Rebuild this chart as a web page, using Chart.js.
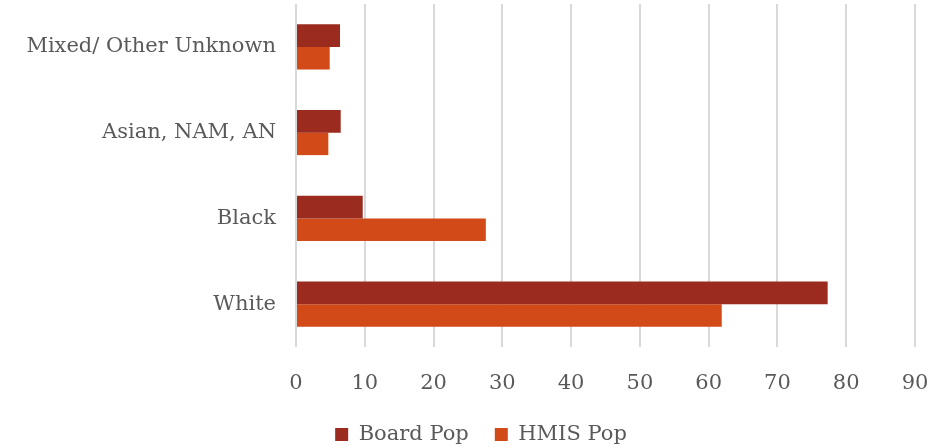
<!DOCTYPE html>
<html>
<head>
<meta charset="utf-8">
<script src="https://cdn.jsdelivr.net/npm/chart.js@4/dist/chart.umd.min.js"></script>
<style>
html,body{margin:0;padding:0;background:#fff;}
#wrap{width:930px;height:448px;position:relative;}
</style>
</head>
<body>
<div id="wrap"><canvas id="c" width="930" height="448"></canvas></div>
<script>
const groups=['Mixed/ Other Unknown','Asian, NAM, AN','Black','White'];
const boardPop=[6.4,6.5,9.7,77.3];
const hmisPop=[4.9,4.7,27.6,61.9];
const xTicks=[0,10,20,30,40,50,60,70,80,90];

const txt='#595959',grid='#d9d9d9';
const font={family:'"DejaVu Serif", serif',size:21};

// centre the legend under the plot rather than under the whole canvas
const legendShift={id:'legendShift',afterLayout(c){c.legend.left+=47;}};

new Chart(document.getElementById('c'),{
  type:'bar',
  data:{labels:groups,datasets:[
    {label:'Board Pop',data:boardPop,backgroundColor:'#9b2b1f',borderWidth:0},
    {label:'HMIS Pop',data:hmisPop,backgroundColor:'#d24a18',borderWidth:0}
  ]},
  options:{
    indexAxis:'y',responsive:false,animation:false,
    // legend spacing is wide, so let its box hang below the canvas edge
    layout:{padding:{left:0,right:15,top:4,bottom:-7}},
    datasets:{bar:{barPercentage:1,categoryPercentage:0.525}},
    plugins:{
      legend:{position:'bottom',labels:{color:txt,font:font,boxWidth:13,boxHeight:13,padding:26}},
      tooltip:{enabled:false}
    },
    scales:{
      x:{min:0,max:90,
        afterBuildTicks:s=>{s.ticks=xTicks.map(v=>({value:v}));},
        afterFit:s=>{s.height=51;s.paddingLeft=0;s.paddingRight=0;},
        grid:{color:grid,lineWidth:2,drawTicks:false},
        border:{display:false},
        ticks:{color:txt,font:font,padding:24}},
      y:{
        afterFit:s=>{s.width=296;s.paddingTop=0;s.paddingBottom=0;},
        grid:{display:false,drawTicks:false},
        border:{display:false},
        ticks:{color:txt,font:font,padding:20}}
    }
  },
  plugins:[legendShift]
});
</script>
</body>
</html>
